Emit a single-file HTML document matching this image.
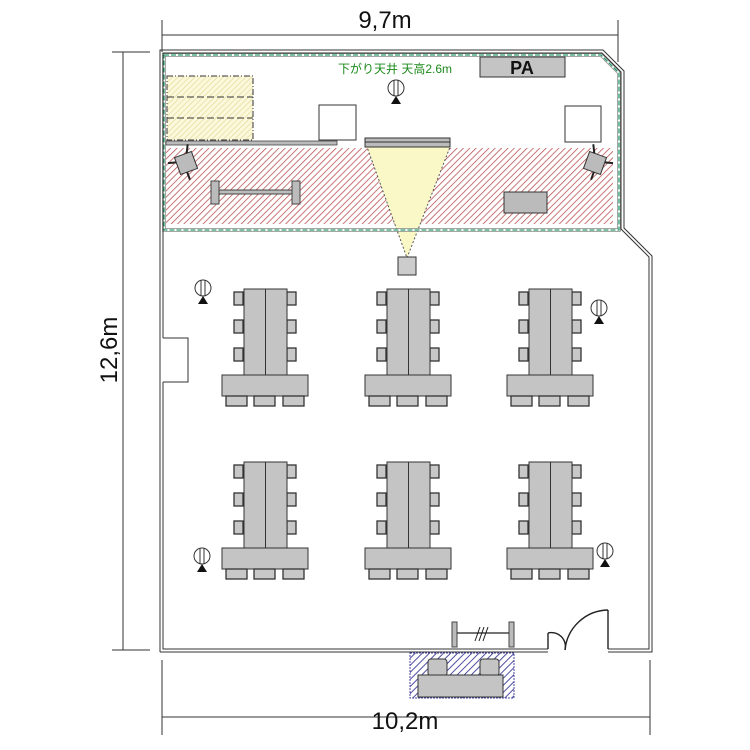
<!DOCTYPE html>
<html><head><meta charset="utf-8"><style>html,body{margin:0;padding:0;background:#fff}svg{display:block}</style></head>
<body>
<svg width="750" height="750" viewBox="0 0 750 750" xmlns="http://www.w3.org/2000/svg">
<defs>
<pattern id="red" patternUnits="userSpaceOnUse" width="4.5" height="4.5" patternTransform="rotate(45)"><rect width="4.5" height="4.5" fill="#fff"/><line x1="0" y1="0" x2="0" y2="4.5" stroke="#b84a4a" stroke-width="1.5"/></pattern>
<pattern id="yel" patternUnits="userSpaceOnUse" width="4" height="4" patternTransform="rotate(45)"><rect width="4" height="4" fill="#fbf8dc"/><line x1="0" y1="0" x2="0" y2="4" stroke="#e0d890" stroke-width="1.2"/></pattern>
<pattern id="blue" patternUnits="userSpaceOnUse" width="5" height="5" patternTransform="rotate(45)"><rect width="5" height="5" fill="#fff"/><line x1="0" y1="0" x2="0" y2="5" stroke="#3a3a98" stroke-width="1.8"/></pattern>
<g id="chv"><rect x="0" y="0" width="9" height="13" fill="#c8c8c8" stroke="#333" stroke-width="1.3"/></g>
<g id="chh"><rect x="0" y="0" width="21" height="10" fill="#c8c8c8" stroke="#333" stroke-width="1.3"/></g>
<g id="grp">
<use href="#chv" x="-31" y="3"/><use href="#chv" x="-31" y="31"/><use href="#chv" x="-31" y="59"/>
<use href="#chv" x="22" y="3"/><use href="#chv" x="22" y="31"/><use href="#chv" x="22" y="59"/>
<rect x="-21" y="0" width="43" height="86" fill="#c4c4c4" stroke="#333"/>
<line x1="0.5" y1="0" x2="0.5" y2="86" stroke="#333"/>
<rect x="-43" y="86" width="86" height="21" fill="#c4c4c4" stroke="#333"/>
<use href="#chh" x="-39" y="107"/><use href="#chh" x="-11" y="107"/><use href="#chh" x="18" y="107"/>
</g>
<g id="spk">
<circle cx="0" cy="0" r="8" fill="#fff" stroke="#333"/>
<line x1="-2" y1="-8" x2="-2" y2="8" stroke="#333"/><line x1="2" y1="-8" x2="2" y2="8" stroke="#333"/>
<polygon points="0,8 -5,16 5,16" fill="#111"/>
</g>
</defs>

<g stroke="#333" stroke-width="1" fill="none">
<line x1="162" y1="35" x2="618" y2="35"/><line x1="162" y1="20" x2="162" y2="52"/><line x1="618" y1="20" x2="618" y2="62"/>
<line x1="123" y1="52" x2="123" y2="650"/><line x1="112" y1="52" x2="150" y2="52"/><line x1="112" y1="650" x2="150" y2="650"/>
<line x1="162" y1="717" x2="650" y2="717"/><line x1="162" y1="660" x2="162" y2="735"/><line x1="650" y1="660" x2="650" y2="735"/>
</g>
<text x="385" y="28" font-family="Liberation Sans, sans-serif" font-size="24" text-anchor="middle" fill="#111">9,7m</text>
<text x="405" y="729" font-family="Liberation Sans, sans-serif" font-size="24" text-anchor="middle" fill="#111">10,2m</text>
<text transform="translate(117,350) rotate(-90)" font-family="Liberation Sans, sans-serif" font-size="24" text-anchor="middle" fill="#111">12,6m</text>

<rect x="166" y="148" width="447" height="76" fill="url(#red)"/>
<rect x="167" y="76" width="86" height="64" fill="url(#yel)" stroke="#333" stroke-dasharray="6,2,1,2" stroke-width="1"/>
<line x1="167" y1="97" x2="253" y2="97" stroke="#333" stroke-dasharray="7,3"/>
<line x1="167" y1="118" x2="253" y2="118" stroke="#333" stroke-dasharray="7,3"/>
<rect x="166" y="141" width="171" height="4" fill="#bbb" stroke="#444" stroke-width="0.8"/>
<polygon points="367,147 450,147 407,258" fill="#fbf8c8" stroke="#555" stroke-dasharray="2,2"/>
<rect x="365" y="138" width="85" height="9" fill="#bbb" stroke="#333"/>
<line x1="365" y1="142" x2="450" y2="142" stroke="#333"/>
<rect x="398" y="257" width="18" height="18" fill="#ccc" stroke="#333"/>
<rect x="319" y="105" width="37" height="35" fill="#fff" stroke="#333"/>
<rect x="565" y="106" width="36" height="36" fill="#fff" stroke="#333"/>
<rect x="480" y="57" width="85" height="20" fill="#c4c4c4" stroke="#333"/>
<text x="522" y="74" font-family="Liberation Sans, sans-serif" font-size="18" font-weight="bold" text-anchor="middle" fill="#111">PA</text>
<text x="395" y="73" font-family="Liberation Sans, 'Noto Sans CJK JP', sans-serif" font-size="12" text-anchor="middle" fill="#1a8a1a">下がり天井 天高2.6m</text>
<rect x="211" y="181" width="8" height="23" fill="#bbb" stroke="#444"/>
<rect x="292" y="181" width="8" height="23" fill="#bbb" stroke="#444"/>
<rect x="219" y="190" width="73" height="4" fill="#bbb" stroke="#444"/>
<rect x="504" y="192" width="43" height="21" fill="#bbb" stroke="#333"/>
<g transform="translate(186,163) rotate(-20)"><rect x="-9" y="-9" width="18" height="18" fill="#bbb" stroke="#333"/><line x1="-9" y1="-4" x2="-17" y2="-6" stroke="#222" stroke-width="2"/><line x1="4" y1="-9" x2="8" y2="-17" stroke="#222" stroke-width="2"/><line x1="-2" y1="9" x2="-2" y2="17" stroke="#222" stroke-width="2"/></g>
<g transform="translate(595,163) rotate(20)"><rect x="-9" y="-9" width="18" height="18" fill="#bbb" stroke="#333"/><line x1="9" y1="-4" x2="17" y2="-6" stroke="#222" stroke-width="2"/><line x1="-4" y1="-9" x2="-8" y2="-17" stroke="#222" stroke-width="2"/><line x1="2" y1="9" x2="2" y2="17" stroke="#222" stroke-width="2"/></g>
<path d="M164,55 L601,55 L619,73 L619,230 L164,230 Z" fill="none" stroke="#888" stroke-width="3.5"/>
<path d="M164,55 L601,55 L619,73 L619,230 L164,230 Z" fill="none" stroke="#fff" stroke-width="2"/>
<path d="M164,55 L601,55 L619,73 L619,230 L164,230 Z" fill="none" stroke="#2a9a6a" stroke-width="1.3" stroke-dasharray="5,2"/>

<g fill="none" stroke="#333" stroke-width="1">
<path d="M160,652 L160,50 L603,50 L624,71 L624,228 L652,256 L652,652 L608,652"/>
<path d="M163,338 L163,53 L602,53 L621,72 L621,229 L649,257 L649,649 L608,649"/>
<path d="M163,382 L163,649 L548,649"/>
<path d="M160,652 L548,652"/>
<path d="M163,338 L188,338 L188,382 L163,382"/>
</g>
<g fill="none" stroke="#222" stroke-width="1.4">
<line x1="548" y1="649" x2="548" y2="633"/><line x1="608" y1="649" x2="608" y2="610"/>
<path d="M548,633 A14,14 0 0 1 565,650"/>
<path d="M565,650 A44,44 0 0 1 608,610"/>
</g>
<rect x="452" y="622" width="5" height="25" fill="#bbb" stroke="#444"/>
<rect x="509" y="622" width="5" height="25" fill="#bbb" stroke="#444"/>
<line x1="457" y1="633" x2="509" y2="633" stroke="#222" stroke-width="1.2"/>
<g stroke="#222"><line x1="475" y1="641" x2="480" y2="627"/><line x1="479" y1="641" x2="484" y2="627"/><line x1="483" y1="641" x2="488" y2="627"/></g>
<rect x="410" y="653" width="104" height="45" fill="url(#blue)" stroke="#4a4aa0" stroke-dasharray="2,1"/>
<rect x="428" y="659" width="19" height="17" rx="3" fill="#c4c4c4" stroke="#333"/>
<rect x="480" y="659" width="19" height="17" rx="3" fill="#c4c4c4" stroke="#333"/>
<rect x="418" y="675" width="85" height="22" fill="#c4c4c4" stroke="#333"/>

<use href="#grp" x="265" y="289"/><use href="#grp" x="408" y="289"/><use href="#grp" x="550" y="289"/>
<use href="#grp" x="265" y="462"/><use href="#grp" x="408" y="462"/><use href="#grp" x="550" y="462"/>

<use href="#spk" x="203" y="288"/><use href="#spk" x="396" y="88"/><use href="#spk" x="599" y="308"/>
<use href="#spk" x="202" y="556"/><use href="#spk" x="605" y="551"/>
</svg>
</body></html>
